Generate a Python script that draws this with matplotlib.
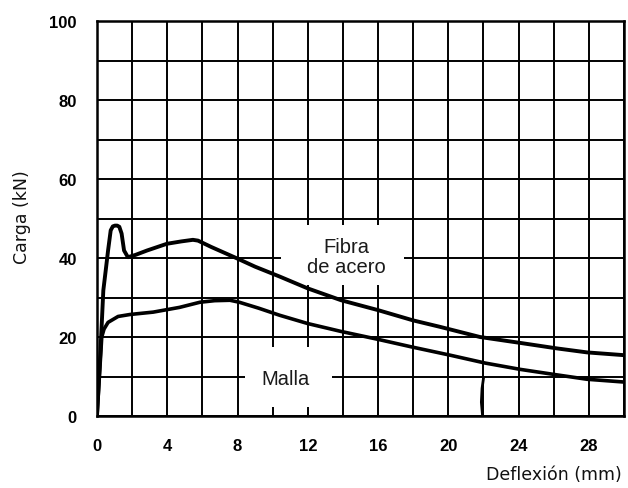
import matplotlib
matplotlib.use("Agg")
import matplotlib.pyplot as plt
from matplotlib.patches import Rectangle

# ---- data ----
fibra_x = [0, 0.2, 0.36, 0.5, 0.63, 0.78, 0.9, 1.02, 1.15, 1.27, 1.4, 1.54, 1.76,
           2.2, 2.85, 3.98, 4.8, 5.46, 5.75, 6.5, 7.97, 9.0, 10.4, 12.0, 13.9,
           16.0, 18.0, 19.5, 21.8, 24.1, 26.2, 27.9, 30.0]
fibra_y = [0, 16.7, 31.8, 37.0, 41.9, 47.0, 48.0, 48.2, 48.2, 47.9, 46.2, 41.9, 40.2,
           40.8, 41.9, 43.6, 44.2, 44.6, 44.4, 42.8, 39.9, 37.8, 35.3, 32.3, 29.3,
           26.8, 24.2, 22.6, 20.0, 18.5, 17.1, 16.1, 15.4]

malla_x = [0, 0.15, 0.27, 0.4, 0.63, 1.2, 1.88, 3.2, 4.7, 5.86, 6.7, 7.57, 8.1,
           9.2, 10.4, 12.0, 13.9, 16.0, 18.0, 20.1, 22.1, 24.1, 26.2, 27.9, 30.0]
malla_y = [0, 11.0, 20.0, 22.0, 23.7, 25.2, 25.7, 26.3, 27.5, 28.8, 29.2, 29.3, 28.8,
           27.3, 25.5, 23.4, 21.4, 19.4, 17.4, 15.4, 13.4, 11.8, 10.4, 9.3, 8.6]

mark_x = [21.95, 21.88, 21.92, 22.0]
mark_y = [0, 3.5, 7.0, 9.5]

x_ticks = [0, 4, 8, 12, 16, 20, 24, 28]
y_ticks = [0, 20, 40, 60, 80, 100]
x_grid = list(range(0, 31, 2))
y_grid = list(range(0, 101, 10))

label_fibra = "Fibra\nde acero"
label_malla = "Malla"
xlabel = "Deflexión (mm)"
ylabel = "Carga (kN)"

plt.rcParams['font.family'] = ['Liberation Sans', 'DejaVu Sans']

fig = plt.figure(figsize=(6.28, 4.89), dpi=100)
ax = fig.add_axes([97/628, 1 - 417/489, (624-97)/628, (417-22)/489])
ax.set_xlim(0, 30)
ax.set_ylim(0, 100)

for gx in x_grid:
    ax.axvline(gx, color='black', lw=1.4, zorder=1)
for gy in y_grid:
    ax.axhline(gy, color='black', lw=1.4, zorder=1)

# white boxes that interrupt the grid behind labels
ax.add_patch(Rectangle((10.5, 33.2), 7.0, 15.2, facecolor='white', edgecolor='none', zorder=2))
ax.add_patch(Rectangle((8.4, 2.4), 5.0, 15.0, facecolor='white', edgecolor='none', zorder=2))

ax.text(14.2, 40.4, label_fibra, ha='center', va='center', fontsize=14.5,
        linespacing=1.1, zorder=3, color='#1a1a1a')
ax.text(10.75, 9.5, label_malla, ha='center', va='center', fontsize=14.5,
        zorder=3, color='#1a1a1a')

ax.plot(fibra_x, fibra_y, color='black', lw=2.8, solid_joinstyle='round',
        solid_capstyle='round', zorder=4)
ax.plot(malla_x, malla_y, color='black', lw=2.6, solid_joinstyle='round',
        solid_capstyle='round', zorder=4)
ax.plot(mark_x, mark_y, color='black', lw=2.0, zorder=4)

ax.set_xticks(x_ticks)
ax.set_yticks(y_ticks)
ax.tick_params(length=0)
ax.tick_params(axis='x', pad=16)
ax.tick_params(axis='y', pad=14.5)
for lab in ax.get_xticklabels() + ax.get_yticklabels():
    lab.set_fontweight('bold')
    lab.set_fontsize(12)

for sp in ax.spines.values():
    sp.set_linewidth(1.8)
    sp.set_zorder(5)

fig.text(622/628, 1 - 475/489, xlabel, ha='right', va='center', fontsize=12.5,
         family='DejaVu Sans', color='#111111')
fig.text(22.5/628, 1 - 217/489, ylabel, ha='center', va='center', rotation=90,
         fontsize=12.5, family='DejaVu Sans', color='#111111')

fig.savefig("out.png", dpi=100)
